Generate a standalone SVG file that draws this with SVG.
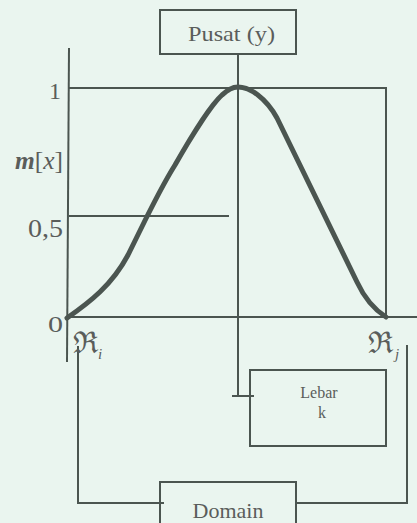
<svg xmlns="http://www.w3.org/2000/svg" width="417" height="523" viewBox="0 0 417 523">
<style>
.ln{stroke:#4b5550;stroke-width:2;fill:none}
.bx{stroke:#4b5550;stroke-width:2;fill:none}
.t{font-family:"Liberation Serif","Times New Roman",serif;fill:#5a5d5b}
.curve{stroke:#4b5550;stroke-width:5;fill:none;stroke-linecap:round;stroke-linejoin:round}
</style>
<rect width="417" height="523" fill="#eaf5ef"/>
<g id="connectors">
<line class="ln" x1="69" y1="48" x2="67" y2="362"/>
<polyline class="ln" points="69,88 386,88 386,317"/>
<line class="ln" x1="67" y1="317" x2="417" y2="317"/>
<line class="ln" x1="69" y1="216" x2="229" y2="216"/>
<polyline class="ln" points="238,54 238,396"/>
<line class="ln" x1="232" y1="396" x2="254" y2="396"/>
<polyline class="ln" points="78,346 78,503 164,503"/>
<polyline class="ln" points="296,503 407,503 407,345"/>
</g>
<g id="curve">
<path class="curve" d="M67,318 C90,302 112,285 128,255 C143,225 158,192 175,165 C192,135 212,104 222,95 C228,90 232,87 238,87 C250,87 266,98 277,118 L357,282 C363,295 372,308 386,317"/>
</g>
<g id="pusat">
<rect class="bx" x="160" y="10" width="136" height="44"/>
<text class="t" x="188" y="41" font-size="22" textLength="87" lengthAdjust="spacingAndGlyphs">Pusat  (y)</text>
</g>
<g id="lebar">
<rect class="bx" x="250" y="370" width="136" height="76"/>
<text class="t" x="319" y="398" font-size="16" text-anchor="middle">Lebar</text>
<text class="t" x="322" y="418" font-size="16" text-anchor="middle">k</text>
</g>
<g id="domain">
<rect class="bx" x="160" y="482" width="136" height="50"/>
<text class="t" x="228" y="518" font-size="22" text-anchor="middle">Domain</text>
</g>
<g id="labels">
<text class="t" x="61" y="99" font-size="24" text-anchor="end">1</text>
<text class="t" x="15" y="169" font-size="25" textLength="48" lengthAdjust="spacingAndGlyphs"><tspan font-weight="bold" font-style="italic">m</tspan>[<tspan font-style="italic">x</tspan>]</text>
<text class="t" x="28" y="237" font-size="25" textLength="35" lengthAdjust="spacingAndGlyphs">0,5</text>
<text class="t" x="48" y="332" font-size="24" textLength="15" lengthAdjust="spacingAndGlyphs">0</text>
<text class="t" x="73" y="353" font-size="30">ℜ<tspan font-size="15" font-style="italic" dy="6">i</tspan></text>
<text class="t" x="368" y="353" font-size="30">ℜ<tspan font-size="15" font-style="italic" dy="6" dx="2">j</tspan></text>
</g>
</svg>
